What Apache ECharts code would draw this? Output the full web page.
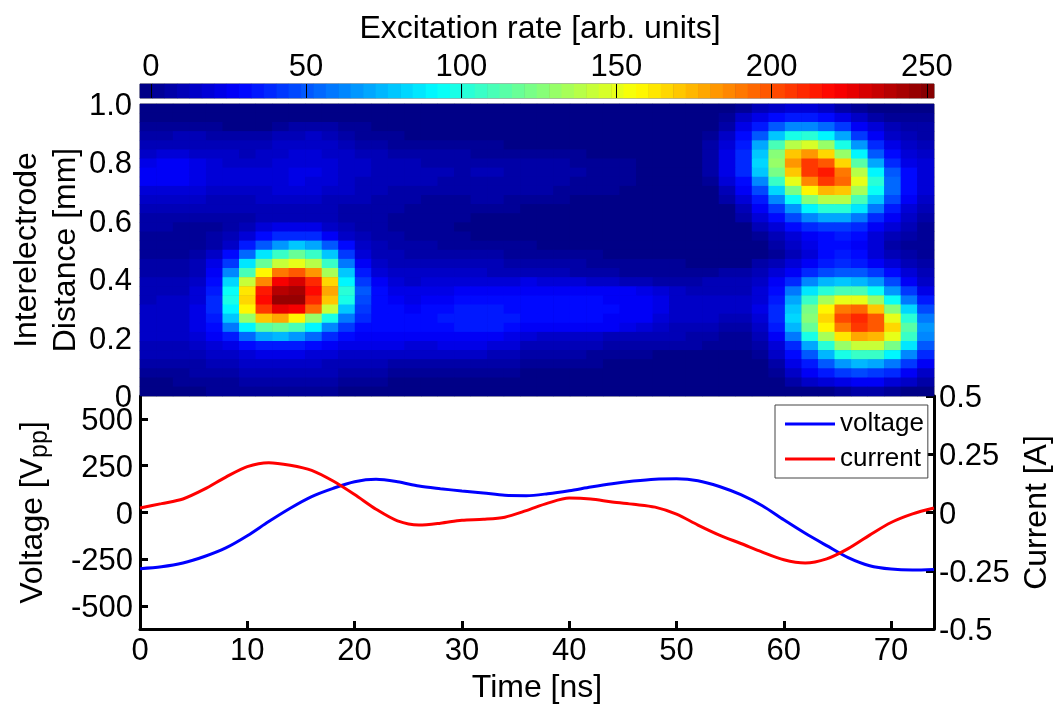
<!DOCTYPE html>
<html><head><meta charset="utf-8">
<style>html,body{margin:0;padding:0;background:#fff}#c{width:1057px;height:710px}</style>
<script src="https://cdn.jsdelivr.net/npm/echarts@6/dist/echarts.min.js"></script>
</head><body><div id="c"></div>
<script>
// Excitation rate, rows top (1.0 mm) to bottom (0 mm), columns 0 to 74 ns
const excitation = [
[0,0,0,0,0,0,0,0,0,0, 0,0,0,0,0,0,0,0,0,0, 0,0,0,0,0,0,0,0,0,0, 0,0,0,0,0,0, 2,12,16,18,18,14,8,3,0,0,0,0],
[0,0,0,0,0,0,0,0,0,0, 0,0,0,0,0,0,0,0,0,0, 0,0,0,0,0,0,0,0,0,0, 0,0,0,0,0, 2,14,24,30,34,34,30,22,14,6,3,3,2],
[3,3,3,3,2,0,0,0,2,5,8,8,4,1,0, 0,0,0,0,0,0,0,0,0,0, 0,0,0,0,0,0,0,0,0,0, 8,22,36,52,62,62,54,42,28,18,10,8,6],
[8,8,9,9,8,6,5,6,9,12,13,12,8,4,2,1, 0,0,0,0,0,0,0,0,0,0, 0,0,0,0,0,0,0,0, 3,16,30,52,80,100,104,92,70,44,26,16,10,8],
[11,12,12,12,11,10,9,10,13,15,15,13,10,8,6,4,3,2,2,2,1,1, 0,0,0,0,0,0,0,0,0,0,0,0, 6,20,36,70,110,138,145,130,100,66,38,22,14,10],
[16,17,17,15,14,13,12,14,16,18,18,16,13,11,9,7,6,6,5,5,4,4,3,3,2,1,1, 0,0,0,0,0,0,0, 8,22,40,80,125,170,182,168,132,90,52,30,18,14],
[24,26,25,22,18,16,15,16,18,20,20,18,15,13,11,10,9,8,8,7,7,7,6,6,5,5,3,3,2,1, 0,0,0,0, 8,22,40,84,130,182,205,200,165,116,70,38,24,18],
[27,28,27,24,20,18,17,18,20,22,22,20,16,14,12,11,10,9,9,8,9,9,8,8,7,7,5,4,3,1, 0,0,0,0, 8,22,38,78,122,170,205,215,190,140,92,50,30,20],
[26,27,25,22,19,18,17,18,20,22,20,18,15,12,11,10,9,9,8,8,8,8,8,7,6,5,4,3,2,1, 0,0,0,0, 4,18,32,64,106,150,188,205,195,150,102,56,32,20],
[20,20,19,17,16,15,15,16,17,18,17,15,13,11,10,8,7,7,6,6,7,8,7,6,5,4,3,2,1, 0,0,0,0,0,0, 12,26,48,84,122,158,175,170,135,95,54,30,18],
[14,14,14,13,12,12,12,13,14,15,14,12,11,9,8,7,5,4,4,4,5,5,4,3,2,1, 0,0,0,0,0,0,0,0,0, 6,20,34,62,95,125,140,138,112,78,46,26,14],
[10,10,10,9,9,10,10,11,12,12,11,10,8,7,6,5,4,3,2,2,2,2,1, 0,0,0,0,0,0,0,0,0,0,0,0,0, 12,26,44,68,92,104,104,86,58,36,20,10],
[6,6,6,6,6,7,8,9,10,11,10,9,7,6,5,4,3,2,1,1, 0,0,0,0,0,0,0,0,0,0, 0,0,0,0,0,0, 6,18,30,46,62,70,70,58,40,26,14,8],
[5,5,4,4,4,6,10,18,22,24,22,16,10,6,5,4,3,2,1, 0,0,0,0,0,0,0,0,0,0, 0,0,0,0,0,0,0,0, 10,20,30,38,44,44,38,28,18,10,4],
[4,4,4,3,5,10,20,32,38,40,38,28,16,10,7,5,4,3,2,1, 0,0,0,0,0,0,0,0,0,0, 0,0,0,0,0,0,0, 2,12,20,28,32,34,30,20,12,6,2],
[3,3,3,4,8,16,33,50,68,80,72,50,30,16,10,7,6,5,4,3,3,2,1,1, 0,0,0,0,0,0,0,0,0,0, 0,0,0,0, 6,14,22,30,32,28,18,8,4,2],
[4,4,4,6,14,32,55,85,108,118,108,78,42,20,12,9,8,7,6,6,6,5,4,4,3,2,2,1, 0,0,0,0,0,0,0,0,0,0, 4,12,20,30,34,30,20,10,6,4],
[6,5,6,9,22,44,85,118,142,150,140,108,60,28,15,12,10,10,9,9,9,9,8,7,7,6,5,4,3,2,2,1,1, 0,0,0,0, 6,10,18,28,36,38,36,28,18,10,6],
[7,7,8,12,28,62,112,158,190,200,182,134,80,36,20,15,13,13,13,13,13,12,12,11,10,9,8,7,6,4,3,3,2,2,4,6,8, 10,18,28,38,48,52,50,42,30,18,10],
[9,9,10,16,32,84,142,188,222,232,212,165,92,44,26,20,16,17,18,18,18,18,17, 22,20,18,18,16,14,12,10,8,8,8,9,10, 10,14,26,40,62,74,78,76,66,46,28,16],
[10,11,12,18,36,96,162,215,240,242,218,178,102,50,30,24,21,22,24,25,25,25,26, 28,28,28,28,28,26,26,24,20,14,12,12,12, 12,18,32,58,88,104,112,110,94,68,42,24],
[12,13,14,20,38,100,168,218,248,245,210,172,100,48,32,28,24,26,28,30,30,30,30, 30,30,30,30,30,28,28,28,22,15,13,14,14, 14,20,36,72,108,134,150,152,130,95,60,34],
[14,14,15,22,38,92,160,208,228,222,196,142,80,42,32,30,28,30,32,34,34,34,32, 30,30,30,30,30,30,28,28,24,15,14,14,14, 14,22,40,80,122,160,190,196,170,126,82,46],
[15,15,16,22,36,80,132,170,178,160,132,100,60,38,32,32,30,32,34,36,36,36,34, 30,30,30,30,30,28,28,26,20,15,14,14,12, 10,20,40,84,128,165,204,212,198,152,102,58],
[14,14,15,22,32,58,92,114,120,110,90,64,42,32,30,32,30,31,32,34,34,33,31, 28,28,28,28,26,26,24,20,14,12,11,10,8, 6,16,36,76,120,160,190,208,200,165,114,66],
[13,13,14,20,26,36,54,70,74,66,54,40,30,28,28,27,26,26,27,28,28,26,24, 18,16,14,14,13,12,12,11,10,9,8,6,4, 4,12,28,58,100,136,162,178,176,150,108,64],
[12,12,12,16,20,24,30,34,36,34,30,26,24,22,21,21,20,20,21,22,21,20,18, 12,11,10,9,9,8,8,7,7,6,5,3,1, 2,6,20,40,72,104,130,144,142,122,88,52],
[9,9,10,12,14,16,20,22,24,22,20,18,16,15,14,14,14,14,14,14,13,12,11, 8,7,6,5,4,3,2,1,0,0,0,0,0, 0,4,14,30,50,76,98,108,106,90,64,38],
[6,6,7,8,10,12,14,16,16,15,14,12,11,10,9,8,8,8,7,7,6,6,5,4,3,2,1,1, 0,0,0,0,0,0,0,0,0,0, 8,22,36,52,68,74,72,60,44,26],
[3,3,4,5,6,8,10,11,11,11,10,9,7,6,5,4,4,3,3,2,2,1,1, 0,0,0,0,0,0,0,0,0,0, 0,0,0,0,0, 4,14,26,36,44,46,44,38,28,16],
[0,0,1,2,3,4,6,7,8,8,7,6,4,2,1, 0,0,0,0,0,0,0,0,0,0, 0,0,0,0,0,0,0,0,0,0, 0,0,0,0, 6,14,20,24,26,26,20,14,8],
[0,0,0,0,1,1,2,2,2,2,1,1, 0,0,0,0,0,0,0,0,0,0, 0,0,0,0,0,0,0,0,0,0, 0,0,0,0,0,0,0,0,0,0, 3,5,5,3,0,0]
];
const colorbarLevels = [-1.5,2.5,6.5,10.5,14.5,18.5,22.5,26.5,30.5,34.5,38.5,42.5,46.5,50.5,54.5,58.5,62.5,66.5,70.5,74.5,78.5,82.5,86.5,90.5,94.5,98.5,102.5,106.5,110.5,114.5,118.5,122.5,126.5,130.5,134.5,138.5,142.5,146.5,150.5,154.5,158.5,162.5,166.5,170.5,174.5,178.5,182.5,186.5,190.5,194.5,198.5,202.5,206.5,210.5,214.5,218.5,222.5,226.5,230.5,234.5,238.5,242.5,246.5,250.5];
const colorbarTicks = [0,50,100,150,200,250];
const distanceTicks = [0,0.2,0.4,0.6,0.8,1];
const voltageTicks = [-500,-250,0,250,500];
const timeTicks = [0,10,20,30,40,50,60,70];
const time = [0,2,4,6,8,10,12,14,16,18,20,22,24,26,28,30,32,34,36,38,40,42,44,46,48,50,52,54,56,58,60,62,64,66,68,70,72,74];
const voltage = [-300,-290,-270,-235,-189,-124,-48,23,85,129,164,177,164,141,127,115,104,92,90,100,116,136,154,168,178,180,170,139,95,36,-39,-111,-177,-241,-284,-302,-307,-304];
const current = [0.019,0.038,0.058,0.10,0.152,0.197,0.214,0.203,0.181,0.135,0.077,0.014,-0.036,-0.054,-0.046,-0.033,-0.029,-0.02,0.008,0.04,0.062,0.058,0.045,0.035,0.023,-0.007,-0.054,-0.097,-0.133,-0.170,-0.203,-0.217,-0.199,-0.155,-0.097,-0.043,-0.006,0.019];

const FONT = '"Liberation Sans", Arial, sans-serif';
const FS = 31, NS = 32;
function jet(i){const t=(i+0.5)/64;const c=x=>Math.round(255*Math.max(0,Math.min(1,1.5-Math.abs(4*t-x))));return `rgb(${c(3)},${c(2)},${c(1)})`;}
const pieces=[];for(let i=0;i<64;i++)pieces.push({min:4*i-3.5,max:4*i+0.5,color:jet(i)});
const heatData=[];excitation.forEach((row,r)=>row.forEach((v,c)=>heatData.push([c,r,v])));
const lbl=(extra)=>Object.assign({color:'#000',fontFamily:FONT,fontSize:FS},extra);
const name=(extra)=>Object.assign({color:'#000',fontFamily:FONT,fontSize:NS},extra);
const low={a:lbl({padding:[5,0,0,0]})};
const black={lineStyle:{color:'#000',width:3}};
const blackLine={onZero:false,lineStyle:{color:'#000',width:3}};
const hidden={axisLine:{show:false},axisTick:{show:false},axisLabel:{show:false},splitLine:{show:false}};
const chart=echarts.init(document.getElementById('c'),null,{renderer:'canvas'});
chart.setOption({
 animation:false,backgroundColor:'#fff',
 title:{text:'Excitation rate [arb. units]',left:535,top:8,textAlign:'center',textStyle:{color:'#000',fontFamily:FONT,fontSize:NS,fontWeight:'normal'}},
 visualMap:{type:'piecewise',show:false,seriesIndex:[0,1],dimension:2,pieces:pieces},
 legend:{data:['voltage','current'],orient:'vertical',left:775,top:405,icon:'rect',itemWidth:50,itemHeight:3,itemGap:5,padding:[4,4,4,10],
   borderColor:'#444',borderWidth:1,backgroundColor:'#fff',textStyle:{color:'#000',fontFamily:FONT,fontSize:26,lineHeight:30},z:20},
 grid:[
  {left:140,top:84,width:794,height:14,outerBoundsMode:'none',show:true,backgroundColor:'#000087',borderColor:'#555',borderWidth:1},
  {left:140,top:104,width:794,height:292,outerBoundsMode:'none',show:true,backgroundColor:'#000087',borderColor:'#666',borderWidth:1},
  {left:140,top:396,width:794,height:233,outerBoundsMode:'none'}
 ],
 xAxis:[
  Object.assign({gridIndex:0,type:'category',boundaryGap:true,data:colorbarLevels.map((_,i)=>'c'+i)},hidden),
  {gridIndex:0,type:'value',position:'top',min:-3.5,max:252.3,z:10,axisLine:{show:false},splitLine:{show:false},
   axisTick:{show:true,inside:true,length:14,customValues:colorbarTicks,lineStyle:{color:'#000',width:1}},
   axisLabel:lbl({customValues:colorbarTicks,margin:1,hideOverlap:false})},
  Object.assign({gridIndex:1,type:'category',boundaryGap:true,data:excitation[0].map((_,i)=>'t'+i)},hidden),
  {gridIndex:2,type:'value',min:0,max:74,splitLine:{show:false},name:'Time [ns]',nameLocation:'middle',nameGap:43,
   nameTextStyle:name({}),axisLine:blackLine,
   axisTick:Object.assign({inside:true,length:8,customValues:timeTicks},black),
   axisLabel:lbl({customValues:timeTicks,margin:7})}
 ],
 yAxis:[
  Object.assign({gridIndex:0,type:'category',boundaryGap:true,data:['c']},hidden),
  Object.assign({gridIndex:1,type:'category',boundaryGap:true,inverse:true,data:excitation.map((_,i)=>'r'+i)},hidden),
  {gridIndex:1,type:'value',position:'left',min:0,max:1,z:10,splitLine:{show:false},
   name:'Interelectrode\nDistance [mm]',nameLocation:'middle',nameGap:54,nameRotate:90,nameMoveOverlap:false,
   nameTextStyle:name({lineHeight:39}),
   axisLine:{onZero:false,lineStyle:{color:'#666',width:1}},
   axisTick:{inside:true,length:6,customValues:distanceTicks,lineStyle:{color:'#000',width:2}},
   axisLabel:lbl({customValues:distanceTicks,margin:8,rich:low,formatter:v=>'{a|'+(v===0?'0':v.toFixed(1))+'}'})},
  {gridIndex:1,type:'value',position:'right',min:0,max:1,z:10,splitLine:{show:false},
   axisLine:{onZero:false,lineStyle:{color:'#666',width:1}},
   axisTick:{inside:true,length:6,customValues:distanceTicks,lineStyle:{color:'#000',width:2}},
   axisLabel:{show:false}},
  {gridIndex:2,type:'value',position:'left',min:-622,max:622,splitLine:{show:false},
   name:'{n|Voltage [V}{s|pp}{n|]}',nameLocation:'middle',nameGap:87,nameRotate:90,nameMoveOverlap:false,
   nameTextStyle:{rich:{n:name({lineHeight:40}),s:name({fontSize:25,lineHeight:40,verticalAlign:'bottom',padding:[12,0,0,0]})}},
   axisLine:blackLine,
   axisTick:Object.assign({inside:true,length:8,customValues:voltageTicks},black),
   axisLabel:lbl({customValues:voltageTicks,margin:7,rich:low,formatter:v=>'{a|'+v+'}'})},
  {gridIndex:2,type:'value',position:'right',min:-0.5,max:0.5,interval:0.25,splitLine:{show:false},
   name:'Current [A]',nameLocation:'middle',nameGap:87,nameRotate:90,nameMoveOverlap:false,nameTextStyle:name({}),
   axisLine:blackLine,
   axisTick:Object.assign({inside:true,length:8},black),
   axisLabel:lbl({margin:5,rich:low,formatter:v=>'{a|'+v+'}',showMinLabel:true,showMaxLabel:true})}
 ],
 series:[
  {type:'heatmap',xAxisIndex:2,yAxisIndex:1,data:heatData,emphasis:{disabled:true},z:2},
  {type:'heatmap',xAxisIndex:0,yAxisIndex:0,data:colorbarLevels.map((v,i)=>[i,0,v]),emphasis:{disabled:true},z:2},
  {type:'line',name:'voltage',xAxisIndex:3,yAxisIndex:4,data:time.map((t,i)=>[t,voltage[i]]),smooth:0.3,symbol:'none',lineStyle:{color:'#0000ff',width:3},itemStyle:{color:'#0000ff'},z:3},
  {type:'line',name:'current',xAxisIndex:3,yAxisIndex:5,data:time.map((t,i)=>[t,current[i]]),smooth:0.3,symbol:'none',lineStyle:{color:'#ff0000',width:3},itemStyle:{color:'#ff0000'},z:3}
 ]
});
</script></body></html>
